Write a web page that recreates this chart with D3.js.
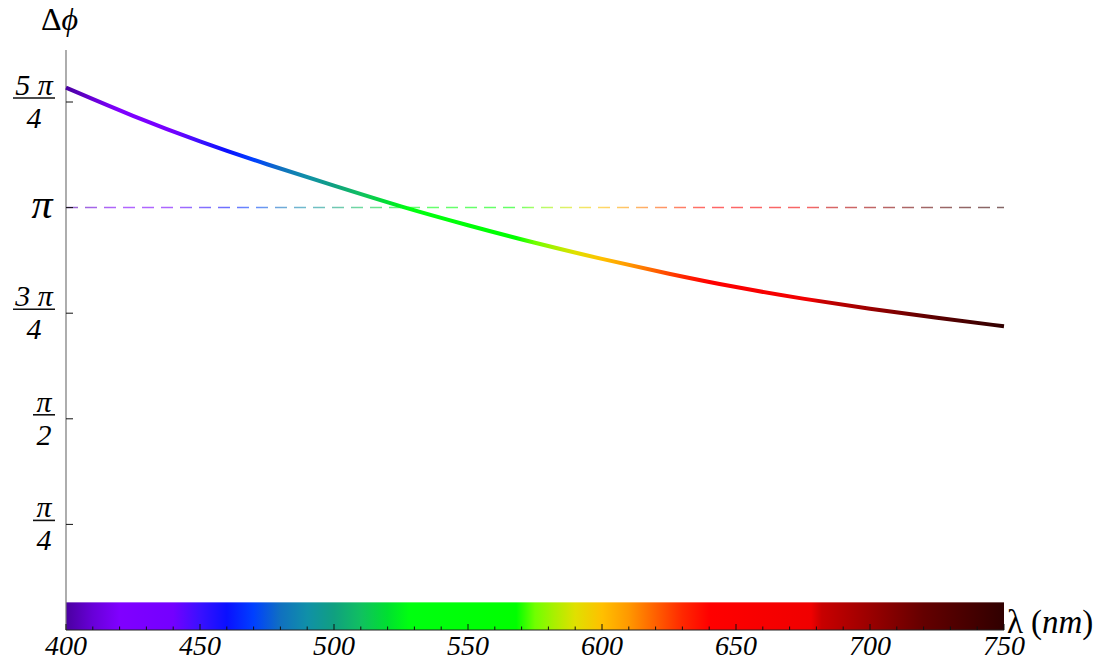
<!DOCTYPE html>
<html lang="en">
<head>
<meta charset="UTF-8">
<script src="https://d3js.org/d3.v7.min.js"></script>
<style>
body { margin: 0; background: #fff; }
text { font-family: "Liberation Serif", "Times New Roman", serif; }
</style>
</head>
<body>
<div class="canva"></div>
<script>
// wavelength (nm) and phase difference in units of pi
const lambdaNm = [400, 425, 450, 475, 500, 525, 550, 575, 600, 625, 650, 675, 700, 725, 750];
const phaseOverPi = [1.284, 1.216, 1.156, 1.102, 1.052, 1.002, 0.958, 0.916, 0.878, 0.843, 0.811, 0.784, 0.760, 0.739, 0.719];

// spectrum colours by wavelength (used for the bar, the curve and the dashed line)
const specNm = [400, 410, 420, 440, 450, 460, 470, 480, 490, 500, 510, 520, 528, 568, 575, 582, 590, 600, 610, 620, 630, 640, 678, 682, 700, 720, 750];
const specColor = ["#4a00a0", "#6800d8", "#8000ff", "#7400ff", "#3a10ff", "#0a10ff", "#0040ff", "#1070c0", "#1090a8", "#10a080", "#10c060", "#00e030", "#00ff10", "#00ff00", "#70ff00", "#a8f000", "#e0e000", "#ffc000", "#ff9800", "#ff6000", "#ff2800", "#ff0000", "#f00000", "#c80000", "#9a0000", "#640000", "#300000"];

const xTicks = [400, 450, 500, 550, 600, 650, 700, 750];
const yTicks = [0.25, 0.5, 0.75, 1, 1.25];
const yNum = ["π", "π", "3 π", "π", "5 π"];
const yDen = ["4", "2", "4", "", "4"];

const width = 1107, height = 658;
const svg = d3.select(".canva").append("svg")
  .attr("width", width)
  .attr("height", height);

const x = d3.scaleLinear().domain([400, 750]).range([66, 1004]);
const y = d3.scaleLinear().domain([0, 1.25]).range([630, 102]);
const yTop = 50;

// gradient along x following the spectrum
const defs = svg.append("defs");
const grad = defs.append("linearGradient")
  .attr("id", "spec")
  .attr("gradientUnits", "userSpaceOnUse")
  .attr("x1", x(400)).attr("x2", x(750))
  .attr("y1", 0).attr("y2", 0);
specNm.forEach((nm, i) => {
  grad.append("stop")
    .attr("offset", (nm - 400) / 350)
    .attr("stop-color", specColor[i]);
});

// colour bar along the x axis
svg.append("rect")
  .attr("x", x(400))
  .attr("y", 602)
  .attr("width", x(750) - x(400))
  .attr("height", y(0) - 602)
  .attr("fill", "url(#spec)");
svg.append("line")
  .attr("x1", x(400)).attr("x2", x(750))
  .attr("y1", 602.5).attr("y2", 602.5)
  .attr("stroke", "#fff")
  .attr("stroke-opacity", 0.35);

// dashed line at pi
svg.append("line")
  .attr("x1", x(400)).attr("x2", x(750))
  .attr("y1", y(1)).attr("y2", y(1))
  .attr("stroke", "url(#spec)")
  .attr("stroke-width", 1.5)
  .attr("stroke-opacity", 0.6)
  .attr("stroke-dasharray", "12,7");

// axes
svg.append("line")
  .attr("x1", x(400)).attr("x2", x(400))
  .attr("y1", yTop).attr("y2", y(0))
  .attr("stroke", "#777")
  .attr("stroke-width", 1.2);
svg.append("line")
  .attr("x1", x(400)).attr("x2", x(750))
  .attr("y1", y(0)).attr("y2", y(0))
  .attr("stroke", "#222")
  .attr("stroke-width", 1.2);

// x ticks (major + minor, pointing up)
const minor = d3.range(400, 751, 10);
svg.selectAll(".xt")
  .data(minor)
  .enter().append("line")
  .attr("class", "xt")
  .attr("x1", d => x(d)).attr("x2", d => x(d))
  .attr("y1", y(0))
  .attr("y2", d => d % 50 === 0 ? y(0) - 6 : y(0) - 3.5)
  .attr("stroke", "#111")
  .attr("stroke-width", 1);

svg.selectAll(".xl")
  .data(xTicks)
  .enter().append("text")
  .attr("class", "xl")
  .attr("x", d => x(d))
  .attr("y", 655)
  .attr("text-anchor", "middle")
  .attr("font-style", "italic")
  .attr("font-size", 28)
  .text(d => d);

// y ticks
svg.selectAll(".yt")
  .data(yTicks)
  .enter().append("line")
  .attr("class", "yt")
  .attr("x1", x(400)).attr("x2", x(400) + 7)
  .attr("y1", d => y(d)).attr("y2", d => y(d))
  .attr("stroke", "#111")
  .attr("stroke-width", 1);

// y tick labels as fractions
yTicks.forEach((t, i) => {
  const ty = y(t);
  const g = svg.append("g");
  if (yDen[i] === "") {
    g.append("text")
      .attr("x", 42).attr("y", ty + 10)
      .attr("text-anchor", "middle")
      .attr("font-style", "italic")
      .attr("font-size", 42)
      .text(yNum[i]);
    return;
  }
  const wide = yNum[i].length > 1;
  const x0 = wide ? 13 : 33, x1 = 55;
  const by = ty - 4;
  g.append("line")
    .attr("x1", x0).attr("x2", x1)
    .attr("y1", by).attr("y2", by)
    .attr("stroke", "#111")
    .attr("stroke-width", 1.6);
  g.append("text")
    .attr("x", (x0 + x1) / 2).attr("y", by - 3)
    .attr("text-anchor", "middle")
    .attr("font-style", "italic")
    .attr("font-size", 30)
    .text(yNum[i]);
  g.append("text")
    .attr("x", (x0 + x1) / 2).attr("y", by + 30)
    .attr("text-anchor", "middle")
    .attr("font-style", "italic")
    .attr("font-size", 30)
    .text(yDen[i]);
});

// the curve
const line = d3.line()
  .x((d, i) => x(lambdaNm[i]))
  .y(d => y(d))
  .curve(d3.curveBasis);
svg.append("path")
  .datum(phaseOverPi)
  .attr("d", line)
  .attr("fill", "none")
  .attr("stroke", "url(#spec)")
  .attr("stroke-width", 4);

// axis titles
const yt = svg.append("text")
  .attr("x", 41).attr("y", 30)
  .attr("font-size", 32);
yt.append("tspan").text("Δ");
yt.append("tspan").attr("font-style", "italic").text("ϕ");

const xtl = svg.append("text")
  .attr("x", 1007).attr("y", 633)
  .attr("font-size", 33);
xtl.append("tspan").text("λ");
xtl.append("tspan").attr("dx", 8).text("(");
xtl.append("tspan").attr("font-style", "italic").text("nm");
xtl.append("tspan").text(")");
</script>
</body>
</html>
